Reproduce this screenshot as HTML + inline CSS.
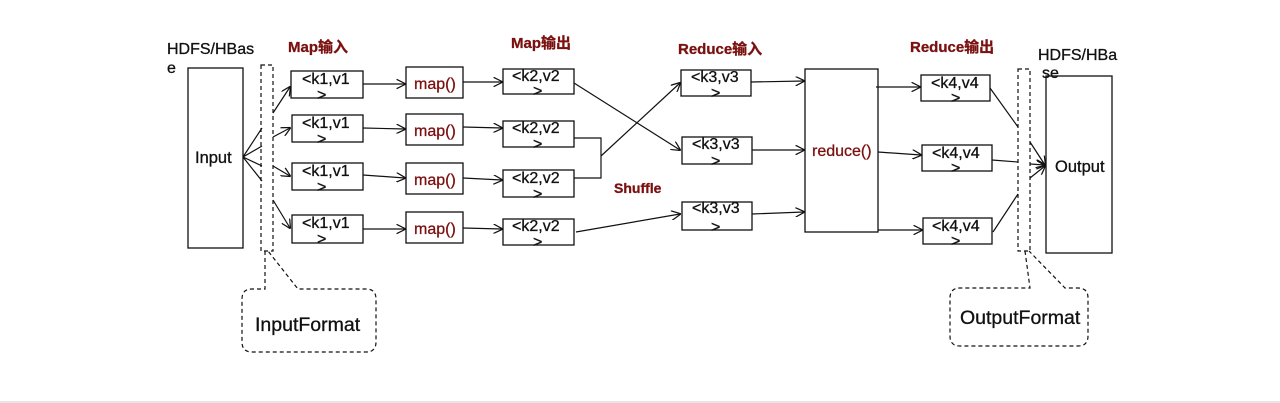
<!DOCTYPE html>
<html><head><meta charset="utf-8"><style>
html,body{margin:0;padding:0;background:#fff;width:1280px;height:403px;overflow:hidden}
svg{display:block}
text{font-family:"Liberation Sans","Noto Sans CJK SC",sans-serif}
</style></head><body>
<svg width="1280" height="403" viewBox="0 0 1280 403" xmlns="http://www.w3.org/2000/svg">
<defs><marker id="a" viewBox="0 0 10 10" refX="9" refY="5" markerWidth="8" markerHeight="8" orient="auto"><path d="M0,0 L10,5 L0,10" fill="none" stroke="#111" stroke-width="1.3"/></marker></defs>
<rect x="0" y="401" width="1280" height="2" fill="#e6e6e6"/>
<g fill="none" stroke="#111" stroke-width="1.3">
<rect x="188" y="68" width="55" height="180"/>
<rect x="805" y="69" width="73" height="163"/>
<rect x="1046" y="76" width="66" height="177"/>
<rect x="291" y="71" width="72" height="27"/><rect x="292" y="115" width="71" height="27"/><rect x="292" y="163" width="71" height="27"/><rect x="292" y="215" width="71" height="28"/>
<rect x="406" y="67" width="57" height="31"/><rect x="406" y="114" width="57" height="31"/><rect x="406" y="163" width="57" height="31"/><rect x="406" y="212" width="57" height="31"/>
<rect x="503" y="69" width="71" height="25"/><rect x="503" y="121" width="71" height="26"/><rect x="503" y="170" width="71" height="27"/><rect x="503" y="219" width="71" height="26"/>
<rect x="681" y="70" width="70" height="26"/><rect x="682" y="137" width="70" height="27"/><rect x="682" y="202" width="70" height="28"/>
<rect x="921" y="75" width="69" height="26"/><rect x="922" y="145" width="70" height="26"/><rect x="923" y="218" width="69" height="26"/>
</g>
<g fill="none" stroke="#111" stroke-width="1.2" stroke-dasharray="4,3">
<rect x="261" y="65" width="12" height="186"/>
<rect x="1018" y="69" width="12" height="182"/>
<path d="M265,251 L265,289 L252,289 Q242,289 242,299 L242,342 Q242,352 252,352 L366,352 Q376,352 376,342 L376,299 Q376,289 366,289 L298,289 L268,251"/>
<path d="M1025,251 L1030,288 L960,288 Q950,288 950,298 L950,336 Q950,346 960,346 L1078,346 Q1088,346 1088,336 L1088,298 Q1088,288 1078,288 L1065,288 L1029,251"/>
</g>
<g fill="none" stroke="#111" stroke-width="1.2">
<path d="M243,157 L262,128 M243,157 L262,146 M243,157 L262,166 M243,157 L262,181"/>
<path d="M273,113 L290,87" marker-end="url(#a)"/>
<path d="M273,137 L290,128" marker-end="url(#a)"/>
<path d="M273,166 L290,176" marker-end="url(#a)"/>
<path d="M273,200 L290,228" marker-end="url(#a)"/>
<path d="M363,84 L405,84" marker-end="url(#a)"/>
<path d="M363,128 L405,129" marker-end="url(#a)"/>
<path d="M363,175 L405,178" marker-end="url(#a)"/>
<path d="M363,229 L405,229" marker-end="url(#a)"/>
<path d="M463,82 L502,82" marker-end="url(#a)"/>
<path d="M463,127 L502,128" marker-end="url(#a)"/>
<path d="M463,178 L502,180" marker-end="url(#a)"/>
<path d="M463,228 L502,229" marker-end="url(#a)"/>
<path d="M574,138 L601,138 L601,178 L574,178"/>
<path d="M601,156 L680,83" marker-end="url(#a)"/>
<path d="M574,83 L680,150" marker-end="url(#a)"/>
<path d="M576,232 L680,214" marker-end="url(#a)"/>
<path d="M751,82 L804,81" marker-end="url(#a)"/>
<path d="M752,150 L804,150" marker-end="url(#a)"/>
<path d="M752,214 L804,212" marker-end="url(#a)"/>
<path d="M876,87 L920,87" marker-end="url(#a)"/>
<path d="M878,152 L921,155" marker-end="url(#a)"/>
<path d="M878,230 L922,230" marker-end="url(#a)"/>
<path d="M990,88 L1018,127 M992,160 L1018,162 M993,232 L1018,194"/>
<path d="M1030,142 L1045,165" marker-end="url(#a)"/>
<path d="M1030,164 L1045,165" marker-end="url(#a)"/>
<path d="M1030,178 L1045,166" marker-end="url(#a)"/>
</g>
<g font-size="16" fill="#111" stroke="#111" stroke-width="0.3">
<text x="167" y="54">HDFS/HBas</text><text x="167" y="73">e</text>
<text x="1038" y="60">HDFS/HBa</text><text x="1042" y="78">se</text>
<text x="195" y="163" font-size="16.5">Input</text>
<text x="1055" y="172" font-size="16.5">Output</text>
<text x="255" y="331" font-size="19.5">InputFormat</text>
<text x="960" y="324" font-size="19.5">OutputFormat</text>
</g>
<g font-size="16" fill="#111" stroke="#111" stroke-width="0.3">
<text x="302" y="84">&lt;k1,v1</text><text x="317" y="100">&gt;</text>
<text x="302" y="128">&lt;k1,v1</text><text x="317" y="144">&gt;</text>
<text x="302" y="176">&lt;k1,v1</text><text x="317" y="192">&gt;</text>
<text x="302" y="228">&lt;k1,v1</text><text x="317" y="244">&gt;</text>
<text x="512" y="81">&lt;k2,v2</text><text x="533" y="96">&gt;</text>
<text x="512" y="133">&lt;k2,v2</text><text x="533" y="149">&gt;</text>
<text x="512" y="183">&lt;k2,v2</text><text x="533" y="199">&gt;</text>
<text x="512" y="231">&lt;k2,v2</text><text x="533" y="247">&gt;</text>
<text x="691" y="82">&lt;k3,v3</text><text x="711" y="98">&gt;</text>
<text x="692" y="149">&lt;k3,v3</text><text x="711" y="166">&gt;</text>
<text x="692" y="213">&lt;k3,v3</text><text x="711" y="232">&gt;</text>
<text x="931" y="88">&lt;k4,v4</text><text x="951" y="103">&gt;</text>
<text x="932" y="158">&lt;k4,v4</text><text x="951" y="173">&gt;</text>
<text x="932" y="231">&lt;k4,v4</text><text x="951" y="246">&gt;</text>
</g>
<g font-size="16" fill="#7a1010" stroke="#7a1010" stroke-width="0.3">
<text x="414" y="89">map()</text><text x="414" y="136">map()</text><text x="414" y="185">map()</text><text x="414" y="234">map()</text>
<text x="812" y="156">reduce()</text>
<text x="288" y="52" font-weight="bold" font-size="15">Map输入</text>
<text x="511" y="48" font-weight="bold" font-size="15">Map输出</text>
<text x="678" y="54" font-weight="bold" font-size="15">Reduce输入</text>
<text x="910" y="52" font-weight="bold" font-size="15">Reduce输出</text>
<text x="614" y="193" font-weight="bold" font-size="14">Shuffle</text>
</g>
</svg>
</body></html>
